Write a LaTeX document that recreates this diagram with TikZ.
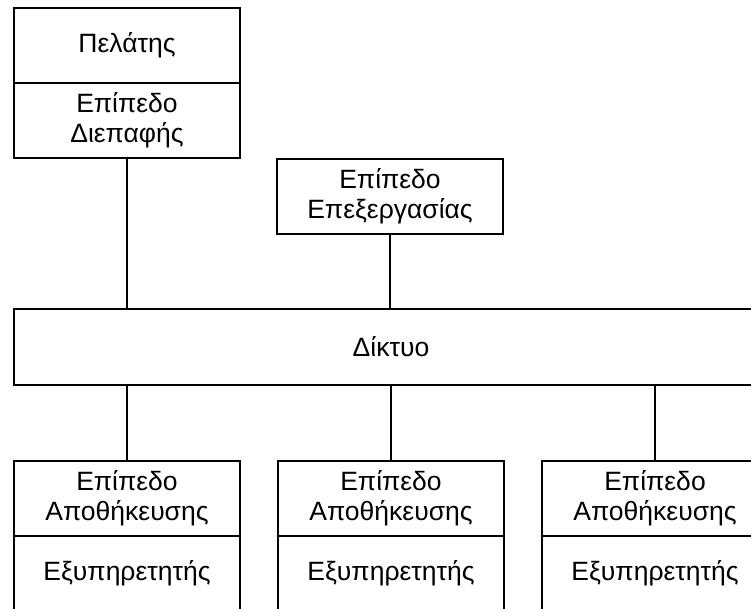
\documentclass[tikz,border=0pt]{standalone}
\usepackage{fontspec}
\setmainfont{Liberation Sans}
\tikzset{
  box/.style={draw, line width=1.6pt, minimum width=226pt, minimum height=75pt, inner sep=0pt, align=center, font=\fontsize{26.5}{30}\selectfont},
  wide/.style={box, minimum width=754pt, minimum height=76pt},
  link/.style={line width=1.6pt}
}
\begin{document}
\begin{tikzpicture}[x=1pt,y=-1pt]
\useasboundingbox (0,0) rectangle (751,609);
\clip (0,0) rectangle (751,609);
% client column
\node[box] (client) at (127,45.5) {Πελάτης};
\node[box] (iface) at (127,120.5) {Επίπεδο\\Διεπαφής};
% processing
\node[box] (proc) at (390,196.5) {Επίπεδο\\Επεξεργασίας};
% network
\node[wide] (net) at (391,347) {Δίκτυο};
% storage columns
\node[box] (st1) at (127,498.5) {Επίπεδο\\Αποθήκευσης};
\node[box] (sv1) at (127,573.5) {Εξυπηρετητής};
\node[box] (st2) at (391,498.5) {Επίπεδο\\Αποθήκευσης};
\node[box] (sv2) at (391,573.5) {Εξυπηρετητής};
\node[box] (st3) at (655,498.5) {Επίπεδο\\Αποθήκευσης};
\node[box] (sv3) at (655,573.5) {Εξυπηρετητής};
% connectors
\draw[link] (iface.south) -- (iface.south |- net.north);
\draw[link] (proc.south) -- (proc.south |- net.north);
\draw[link] (st1.north) -- (st1.north |- net.south);
\draw[link] (st2.north) -- (st2.north |- net.south);
\draw[link] (st3.north) -- (st3.north |- net.south);
\end{tikzpicture}
\end{document}
